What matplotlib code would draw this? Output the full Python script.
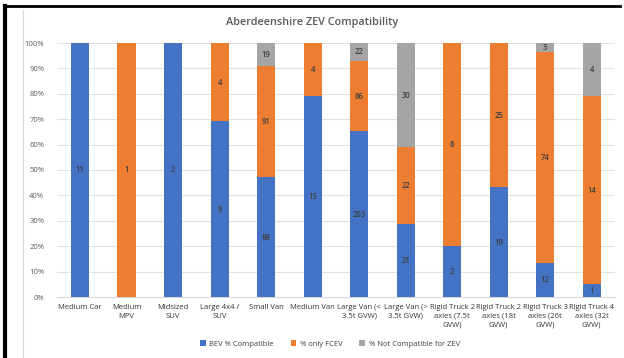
import numpy as np
import matplotlib.pyplot as plt
from matplotlib.lines import Line2D

plt.rcParams['font.family'] = ['Open Sans', 'DejaVu Sans']

categories = ["Medium Car", "Medium\nMPV", "Midsized\nSUV", "Large 4x4 /\nSUV",
              "Small Van", "Medium Van", "Large Van (<\n3.5t GVW)", "Large Van (>\n3.5t GVW)",
              "Rigid Truck 2\naxles (7.5t\nGVW)", "Rigid Truck 2\naxles (18t\nGVW)",
              "Rigid Truck 3\naxles (26t\nGVW)", "Rigid Truck 4\naxles (32t\nGVW)"]
bev = [11, 0, 2, 9, 98, 15, 203, 21, 2, 19, 12, 1]
fcev = [0, 1, 0, 4, 91, 4, 86, 22, 8, 25, 74, 14]
not_zev = [0, 0, 0, 0, 19, 0, 22, 30, 0, 0, 3, 4]

series = [("BEV % Compatible", bev, "#4472C4"),
          ("% only FCEV", fcev, "#ED7D31"),
          ("% Not Compatible for ZEV", not_zev, "#A5A5A5")]

counts = np.array([bev, fcev, not_zev], dtype=float)
totals = counts.sum(axis=0)
shares = counts / totals

fig = plt.figure(figsize=(6.24, 3.58), dpi=100)
W, H = 624, 358
ax = fig.add_axes([56.75 / W, 1 - 297 / H, (615 - 56.75) / W, (297 - 43) / H])

x = np.arange(len(categories))
bottom = np.zeros(len(categories))
for (name, vals, color), frac, raw in zip(series, shares, counts):
    ax.bar(x, frac, 0.39, bottom=bottom, color=color, label=name, zorder=3)
    for xi, b, f, n in zip(x, bottom, frac, raw):
        if n > 0:
            ax.text(xi, b + f / 2, f"{int(n)}", ha="center", va="center",
                    fontsize=5.5, color="#404040", fontweight="semibold", zorder=4)
    bottom += frac

ax.set_xlim(-0.5, len(categories) - 0.5)
ax.set_ylim(0, 1)
ax.set_yticks(np.arange(0, 1.01, 0.1))
ax.set_yticklabels([f"{int(round(v * 100))}%" for v in np.arange(0, 1.01, 0.1)])
ax.set_xticks(x)
ax.set_xticklabels(categories, fontsize=5.5, color="#333333", linespacing=1.35)
ax.tick_params(axis="y", labelsize=5.5, labelcolor="#595959", length=0, pad=9)
ax.tick_params(axis="x", length=0, pad=5)
ax.grid(axis="y", color="#E0E0E0", linewidth=0.8, zorder=0)
for s in ["top", "right", "left"]:
    ax.spines[s].set_visible(False)
ax.spines["bottom"].set_color("#D9D9D9")

fig.text(312 / W, 1 - 22 / H, "Aberdeenshire ZEV Compatibility", ha="center", va="center",
         fontsize=7.8, color="#595959", fontweight="semibold")

fig.legend(loc="center", bbox_to_anchor=(330 / W, 1 - 344 / H), ncol=3, frameon=False,
           fontsize=5.5, handlelength=0.7, handleheight=0.7, columnspacing=2.2,
           handletextpad=0.5, labelcolor="#404040")

# outer frame lines
fig.add_artist(Line2D([5 / W, 620 / W], [1 - 6 / H, 1 - 6 / H], color="black", linewidth=2))
fig.add_artist(Line2D([5 / W, 5 / W], [0, 1 - 6 / H], color="black", linewidth=3))
fig.add_artist(Line2D([23 / W, 23 / W], [0, 1 - 10 / H], color="#D9D9D9", linewidth=0.8))

fig.savefig("out.png", dpi=100)
